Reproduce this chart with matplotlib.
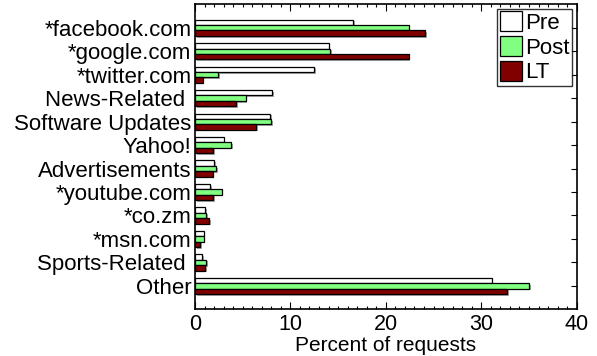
import matplotlib.pyplot as plt
import matplotlib.patheffects as pe
from matplotlib.ticker import MultipleLocator
import numpy as np

plt.rcParams['font.family'] = ['Liberation Sans', 'DejaVu Sans']

categories = ['*facebook.com', '*google.com', '*twitter.com', 'News-Related ',
              'Software Updates', 'Yahoo!', 'Advertisements', '*youtube.com',
              '*co.zm', '*msn.com', 'Sports-Related ', 'Other']
pre = [16.6, 14.0, 12.5, 8.1, 7.9, 3.0, 2.0, 1.6, 1.05, 0.9, 0.77, 31.1]
post = [22.4, 14.2, 2.45, 5.3, 8.0, 3.8, 2.2, 2.8, 1.2, 0.9, 1.2, 35.0]
lt = [24.1, 22.4, 0.8, 4.3, 6.4, 1.9, 1.85, 1.9, 1.5, 0.55, 1.1, 32.7]

series = [('Pre', pre, 'white'), ('Post', post, '#80ff80'), ('LT', lt, '#800000')]

fig = plt.figure(figsize=(5.97, 3.56), dpi=100)
ax = fig.add_axes([0.3266, 0.131, 0.6394, 0.857])

y = np.arange(len(categories))
h = 0.23
shadow = [pe.SimplePatchShadow(offset=(1.2, -1.2), shadow_rgbFace='gray', alpha=0.7), pe.Normal()]
for k, (name, vals, col) in enumerate(series):
    bars = ax.barh(y + (k - 1) * h, vals, height=h, color=col, edgecolor='black',
                   linewidth=0.9, label=name, zorder=2)
    for b in bars:
        b.set_path_effects(shadow)

ax.set_xlim(0, 40)
ax.set_ylim(12, -1)
ax.set_yticks(y)
ax.set_yticklabels(categories, fontsize=16)
ax.set_xticks([0, 10, 20, 30, 40])
ax.xaxis.set_minor_locator(MultipleLocator(1))
ax.tick_params(axis='x', labelsize=15.5, pad=3)
ax.tick_params(which='both', direction='in', top=True, right=True)
ax.tick_params(which='major', length=5, width=0.8)
ax.tick_params(which='minor', length=2.5, width=0.8)
ax.tick_params(axis='y', length=4, pad=2.5)
ax.set_xlabel('Percent of requests', fontsize=15, labelpad=1)
for s in ax.spines.values():
    s.set_linewidth(1.2)

leg = ax.legend(loc='upper right', fontsize=16, frameon=True, fancybox=False,
                edgecolor='black', handlelength=1.0, handleheight=1.0,
                handletextpad=0.15, borderpad=0.12, labelspacing=0.1,
                borderaxespad=0.2)
leg.get_frame().set_linewidth(1.0)
for p in leg.get_patches():
    p.set_path_effects([])

fig.savefig('out.png', dpi=100)
